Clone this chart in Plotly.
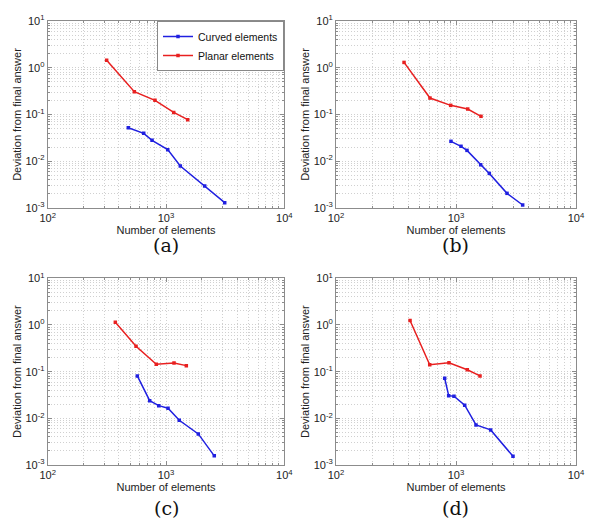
import plotly.graph_objects as go

# ---- data ----
panels = ["(a)", "(b)", "(c)", "(d)"]

curved_x_a = [480, 648, 762, 1034, 1321, 2124, 3135]
curved_y_a = [0.052, 0.0396, 0.0281, 0.0177, 0.0079, 0.00296, 0.0013]
planar_x_a = [315, 540, 807, 1162, 1525]
planar_y_a = [1.45, 0.307, 0.201, 0.111, 0.0774]

curved_x_b = [908, 1101, 1235, 1606, 1895, 2661, 3594]
curved_y_b = [0.0267, 0.0209, 0.0171, 0.0084, 0.0055, 0.00206, 0.00116]
planar_x_b = [369, 607, 903, 1252, 1616]
planar_y_b = [1.3, 0.225, 0.157, 0.131, 0.0915]

curved_x_c = [572, 728, 868, 1040, 1295, 1875, 2559]
curved_y_c = [0.0809, 0.0239, 0.0187, 0.0165, 0.0091, 0.00463, 0.00157]
planar_x_c = [373, 558, 828, 1169, 1485]
planar_y_c = [1.15, 0.35, 0.144, 0.1536, 0.1345]

curved_x_d = [805, 869, 962, 1182, 1468, 1945, 2985]
curved_y_d = [0.0722, 0.0306, 0.0297, 0.0191, 0.00722, 0.00565, 0.00154]
planar_x_d = [414, 604, 874, 1242, 1585]
planar_y_d = [1.25, 0.141, 0.155, 0.110, 0.081]

series_names = ["Curved elements", "Planar elements"]
x_tickvals = [100, 1000, 10000]
x_ticktext = ["10<sup>2</sup>", "10<sup>3</sup>", "10<sup>4</sup>"]
y_tickvals = [0.001, 0.01, 0.1, 1, 10]
y_ticktext = ["10<sup>-3</sup>", "10<sup>-2</sup>", "10<sup>-1</sup>", "10<sup>0</sup>", "10<sup>1</sup>"]
x_title = "Number of elements"
y_title = "Deviation from final answer"

data = [
    (curved_x_a, curved_y_a, planar_x_a, planar_y_a),
    (curved_x_b, curved_y_b, planar_x_b, planar_y_b),
    (curved_x_c, curved_y_c, planar_x_c, planar_y_c),
    (curved_x_d, curved_y_d, planar_x_d, planar_y_d),
]

# ---- layout geometry (page body adds an 8px offset) ----
W, H = 600, 530
OFF = 8


def px_x(v):
    return (v - OFF) / W


def px_y(v):
    return 1 - (v - OFF) / H


xdoms = [[px_x(47.7), px_x(284.3)], [px_x(336), px_x(576)]]
ydoms = [[px_y(208), px_y(21)], [px_y(465), px_y(278.3)]]
BLUE = "#2020e0"
RED = "#e82020"
GRID = "#d0d0d0"
AXC = "#8c8c8c"
FONT = "Liberation Sans, Arial, sans-serif"

fig = go.Figure()
layout = dict(
    template="none",
    width=W, height=H,
    margin=dict(l=0, r=0, t=0, b=0, pad=0),
    paper_bgcolor="white", plot_bgcolor="white",
    font=dict(family=FONT, size=11, color="#222"),
    showlegend=True,
    legend=dict(x=px_x(284), y=px_y(21), xanchor="right", yanchor="top",
                bgcolor="white", bordercolor="#888", borderwidth=1,
                font=dict(size=10.5, color="#111"), tracegroupgap=0,
                itemwidth=30),
    annotations=[],
)

positions = [(0, 0), (1, 0), (0, 1), (1, 1)]
for i, (cx, cy, px, py) in enumerate(data):
    col, row = positions[i]
    n = "" if i == 0 else str(i + 1)
    xa, ya = "x" + n, "y" + n
    fig.add_trace(go.Scatter(x=cx, y=cy, mode="lines+markers", name=series_names[0],
                             line=dict(color=BLUE, width=1.5),
                             marker=dict(symbol="square", size=3.5, color=BLUE),
                             xaxis=xa, yaxis=ya, showlegend=(i == 0)))
    fig.add_trace(go.Scatter(x=px, y=py, mode="lines+markers", name=series_names[1],
                             line=dict(color=RED, width=1.5),
                             marker=dict(symbol="square", size=3.5, color=RED),
                             xaxis=xa, yaxis=ya, showlegend=(i == 0)))
    common = dict(type="log", automargin=False, showline=True, linecolor=AXC, linewidth=1,
                  mirror="ticks", ticks="inside", ticklen=4, tickcolor=AXC,
                  showgrid=True, gridcolor=GRID, griddash="1px,2px", gridwidth=1,
                  zeroline=False,
                  minor=dict(dtick="D1", showgrid=True, gridcolor=GRID, griddash="1px,2px",
                             ticks="inside", ticklen=2, tickcolor=AXC),
                  tickfont=dict(size=11, color="#222"))
    layout["xaxis" + n] = dict(common, domain=xdoms[col], anchor=ya, range=[2, 4],
                               tickvals=x_tickvals, ticktext=x_ticktext,
                               title=dict(text=x_title, standoff=0, font=dict(size=11)))
    layout["yaxis" + n] = dict(common, domain=ydoms[row], anchor=xa, range=[-3, 1],
                               tickvals=y_tickvals, ticktext=y_ticktext,
                               title=dict(text=y_title, standoff=1, font=dict(size=11)))
    layout["annotations"].append(dict(
        text=panels[i], xref="paper", yref="paper",
        x=sum(xdoms[col]) / 2, y=px_y(245 if row == 0 else 508),
        xanchor="center", yanchor="middle", showarrow=False,
        font=dict(family="DejaVu Serif, Liberation Serif, serif", size=19, color="#111")))

fig.update_layout(**layout)
fig.write_html("out.html")
